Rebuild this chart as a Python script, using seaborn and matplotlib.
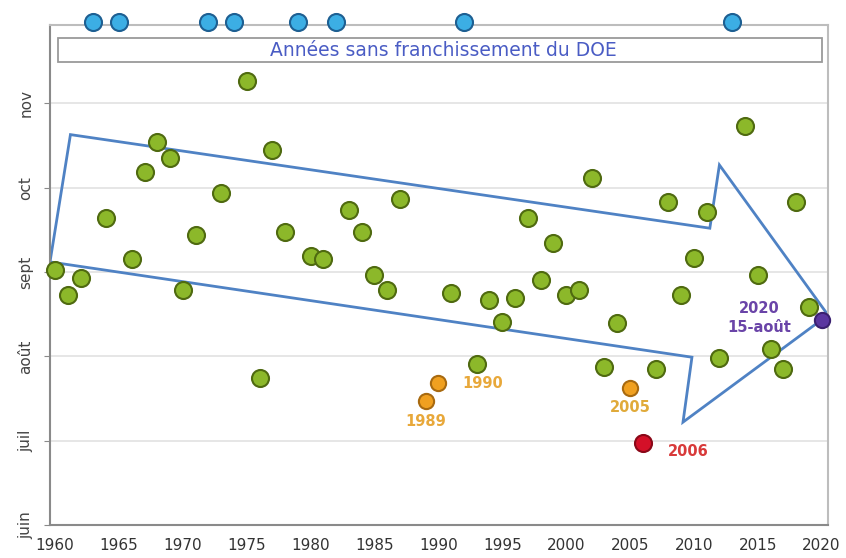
import matplotlib
matplotlib.use("Agg")
import matplotlib.pyplot as plt
import seaborn as sns
import pandas as pd
from matplotlib.patches import Polygon

# ---- data ----
years = [1960, 1961, 1962, 1964, 1966, 1967, 1968, 1969, 1970, 1971, 1973, 1975,
         1976, 1977, 1978, 1980, 1981, 1983, 1984, 1985, 1986, 1987, 1989, 1990,
         1991, 1993, 1994, 1995, 1996, 1997, 1998, 1999, 2000, 2001, 2002, 2003,
         2004, 2005, 2006, 2007, 2008, 2009, 2010, 2011, 2012, 2014, 2015, 2016,
         2017, 2018, 2019, 2020]
# month of first crossing (6 = 1 June, 7 = 1 July, ...)
months = [9.02, 8.73, 8.93, 9.64, 9.15, 10.19, 10.54, 10.35, 8.79, 9.44, 9.94, 11.26,
          7.74, 10.45, 9.48, 9.19, 9.15, 9.74, 9.48, 8.97, 8.79, 9.87, 7.47, 7.68,
          8.75, 7.91, 8.67, 8.41, 8.69, 9.64, 8.91, 9.34, 8.73, 8.79, 10.12, 7.87,
          8.40, 7.62, 6.97, 7.85, 9.83, 8.73, 9.17, 9.71, 7.98, 10.73, 8.97, 8.09,
          7.85, 9.83, 8.58, 8.43]
highlight = {1989: "orange", 1990: "orange", 2005: "orange", 2006: "red", 2020: "purple"}
no_cross_years = [1963, 1965, 1972, 1974, 1979, 1982, 1992, 2013]
month_ticks = [6, 7, 8, 9, 10, 11]
month_labels = ["juin", "juil", "août", "sept", "oct", "nov"]
year_ticks = list(range(1960, 2021, 5))
# trend arrow outline (year, month)
arrow_years = [1959.6, 1961.2, 2011.25, 2012.0, 2020.5, 2009.15, 2009.85]
arrow_months = [9.12, 10.63, 9.52, 10.27, 8.49, 7.22, 7.99]

df = pd.DataFrame({"year": years, "month": months})
df["cat"] = [highlight.get(y, "green") for y in years]

palette = {"green": "#8cb82a", "orange": "#f0a020", "red": "#d41028", "purple": "#5a36a0"}
edges = {"green": "#4f6a10", "orange": "#a86a10", "red": "#8a0818", "purple": "#3a2070"}

sns.set_style("white")
fig = plt.figure(figsize=(8.46, 5.58), dpi=100)
ax = fig.add_axes([50 / 846, 1 - 525 / 558, 778 / 846, 500 / 558])

ax.set_xlim(1959.6, 2020.5)
ax.set_ylim(6.0, 11.93)

# gridlines
for m in month_ticks[1:]:
    ax.axhline(m, color="#e2e2e2", lw=1.2, zorder=0)

# arrow
poly = Polygon(list(zip(arrow_years, arrow_months)), closed=True, fill=False,
               edgecolor="#4f82c4", lw=2.0, joinstyle="miter", zorder=2)
ax.add_patch(poly)

# points
for cat in ["green", "orange", "red", "purple"]:
    sub = df[df["cat"] == cat]
    size = 150 if cat in ("green", "red") else 120
    sns.scatterplot(data=sub, x="year", y="month", ax=ax, color=palette[cat],
                    edgecolor=edges[cat], linewidth=1.5, s=size, zorder=4, legend=False)
    ax.collections[-1].set_clip_on(False)

blue_df = pd.DataFrame({"year": no_cross_years, "month": [11.96] * len(no_cross_years)})
sns.scatterplot(data=blue_df, x="year", y="month", ax=ax, color="#3caee4",
                edgecolor="#1d5f92", linewidth=1.5, s=150, zorder=5, legend=False)
ax.collections[-1].set_clip_on(False)

# labels on highlighted points
lab = {1989: ("1989", (0, -20), "#e8a83a"),
       1990: ("1990", (44, 0), "#e8a83a"),
       2005: ("2005", (0, -19), "#e0aa3a"),
       2006: ("2006", (45, -8), "#d83a3a"),
       2020: ("2020\n15-août", (-62, 2), "#6a44a8")}
for y, (txt, off, col) in lab.items():
    m = df.loc[df["year"] == y, "month"].iloc[0]
    ax.annotate(txt, (y, m), xytext=off, textcoords="offset pixels",
                ha="center", va="center", color=col, fontsize=10.5,
                fontweight="bold", linespacing=1.35, zorder=6)

# title box
ax.text(0.5055, 0.95, "Années sans franchissement du DOE", transform=ax.transAxes,
        ha="center", va="center", color="#4a5cc4", fontsize=13.5, zorder=6)
box = plt.Rectangle((8 / 778, 0.926), 764 / 778, 0.048, transform=ax.transAxes,
                    fill=False, edgecolor="#9a9a9a", lw=1.3, zorder=5)
ax.add_patch(box)

# axes styling
for side in ["top", "right"]:
    ax.spines[side].set_color("#bdbdbd")
    ax.spines[side].set_linewidth(1.5)
for side in ["left", "bottom"]:
    ax.spines[side].set_color("#8a8a8a")
    ax.spines[side].set_linewidth(1.5)

ax.set_xticks(year_ticks)
ax.set_xticklabels([str(y) for y in year_ticks], fontsize=11, color="#333333")
ax.set_xticks(list(range(1960, 2021, 4)), minor=True)
ax.tick_params(axis="x", which="major", length=0, pad=9)
ax.tick_params(axis="x", which="minor", length=4, color="#8a8a8a", width=1)
ax.set_yticks(month_ticks)
ax.set_yticklabels(month_labels, rotation=90, va="center", fontsize=11, color="#444444")
ax.tick_params(axis="y", length=4, color="#8a8a8a", pad=8, left=True)
ax.set_xlabel("")
ax.set_ylabel("")

fig.savefig("out.png", dpi=100)
